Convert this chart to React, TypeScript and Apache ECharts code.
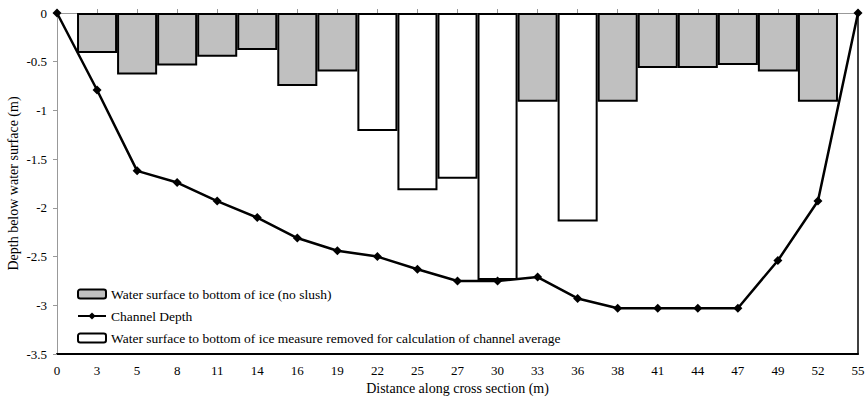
import React, { useEffect, useRef } from "react";
import * as echarts from "echarts";

const categories = ["0", "3", "5", "8", "11", "14", "16", "19", "22", "25", "27", "30", "33", "36", "38", "41", "44", "47", "49", "52", "55"];
const iceDepth = [null, -0.41, -0.63, -0.54, -0.45, -0.38, -0.75, -0.6, null, null, null, null, -0.91, null, -0.91, -0.565, -0.565, -0.535, -0.6, -0.91, null];
const removedIceDepth = [null, null, null, null, null, null, null, null, -1.21, -1.82, -1.7, -2.74, null, -2.14, null, null, null, null, null, null, null];
const channelDepth = [0, -0.79, -1.62, -1.74, -1.93, -2.1, -2.31, -2.44, -2.5, -2.63, -2.75, -2.75, -2.71, -2.93, -3.03, -3.03, -3.03, -3.03, -2.54, -1.93, 0];
const yTicks = { min: -3.5, max: 0, interval: 0.5 };

const FONT = "'Liberation Serif', 'Times New Roman', serif";
const NAME_GRAY = "Water surface to bottom of ice (no slush)";
const NAME_LINE = "Channel Depth";
const NAME_WHITE = "Water surface to bottom of ice measure removed for calculation of channel average";

export default function App() {
  const ref = useRef<HTMLDivElement>(null);
  useEffect(() => {
    if (!ref.current) return;
    const chart = echarts.init(ref.current, undefined, { renderer: "svg" });
    chart.setOption({
      animation: false,
      textStyle: { fontFamily: FONT, color: "#000" },
      grid: { left: 57, right: 7, top: 13, bottom: 48, containLabel: false, outerBoundsMode: "none" },
      legend: {
        orient: "vertical",
        left: 72,
        top: 282,
        itemWidth: 28,
        itemHeight: 9,
        itemGap: 8,
        textStyle: { fontFamily: FONT, fontSize: 13.5, color: "#000" },
        data: [NAME_GRAY, NAME_LINE, NAME_WHITE],
      },
      xAxis: [
        {
          type: "category",
          data: categories,
          boundaryGap: false,
          axisLine: { onZero: true, lineStyle: { color: "#999", width: 1 } },
          axisTick: { inside: true, length: 4, lineStyle: { color: "#999" } },
          axisLabel: { show: false },
          splitLine: { show: false },
        },
        {
          type: "category",
          data: categories,
          boundaryGap: false,
          position: "bottom",
          axisLine: { onZero: false, lineStyle: { color: "#000", width: 2 } },
          axisTick: { show: false },
          axisLabel: { fontFamily: FONT, fontSize: 13, color: "#000", margin: 10 },
          name: "Distance along cross section (m)",
          nameLocation: "middle",
          nameGap: 27,
          nameMoveOverlap: false,
          nameTextStyle: { fontFamily: FONT, fontSize: 14, color: "#000" },
        },
      ],
      yAxis: [
        {
          type: "value",
          min: yTicks.min,
          max: yTicks.max,
          interval: yTicks.interval,
          axisLine: { show: true, lineStyle: { color: "#999" } },
          axisTick: { show: true, length: 4, lineStyle: { color: "#999" } },
          axisLabel: { fontFamily: FONT, fontSize: 13, color: "#000", margin: 10 },
          splitLine: { show: false },
          name: "Depth below water surface (m)",
          nameLocation: "middle",
          nameGap: 37,
          nameMoveOverlap: false,
          nameTextStyle: { fontFamily: FONT, fontSize: 14, color: "#000" },
        },
        {
          type: "value",
          position: "right",
          min: yTicks.min,
          max: yTicks.max,
          interval: yTicks.interval,
          axisLine: { show: true, lineStyle: { color: "#000", width: 1.5 } },
          axisTick: { show: false },
          axisLabel: { show: false },
          splitLine: { show: false },
        },
      ],
      series: [
        {
          name: NAME_GRAY,
          type: "bar",
          data: iceDepth,
          barWidth: "100%",
          barGap: "-100%",
          itemStyle: { color: "#c0c0c0", borderColor: "#000", borderWidth: 2 },
          z: 2,
        },
        {
          name: NAME_WHITE,
          type: "bar",
          data: removedIceDepth,
          barWidth: "100%",
          barGap: "-100%",
          itemStyle: { color: "#fff", borderColor: "#000", borderWidth: 2 },
          z: 2,
        },
        {
          name: NAME_LINE,
          type: "line",
          data: channelDepth,
          symbol: "diamond",
          symbolSize: 9,
          lineStyle: { color: "#000", width: 2.5 },
          itemStyle: { color: "#000" },
          z: 5,
        },
      ],
    });
    return () => chart.dispose();
  }, []);
  return <div ref={ref} style={{ position: "absolute", left: 0, top: 0, width: 865, height: 402 }} />;
}
